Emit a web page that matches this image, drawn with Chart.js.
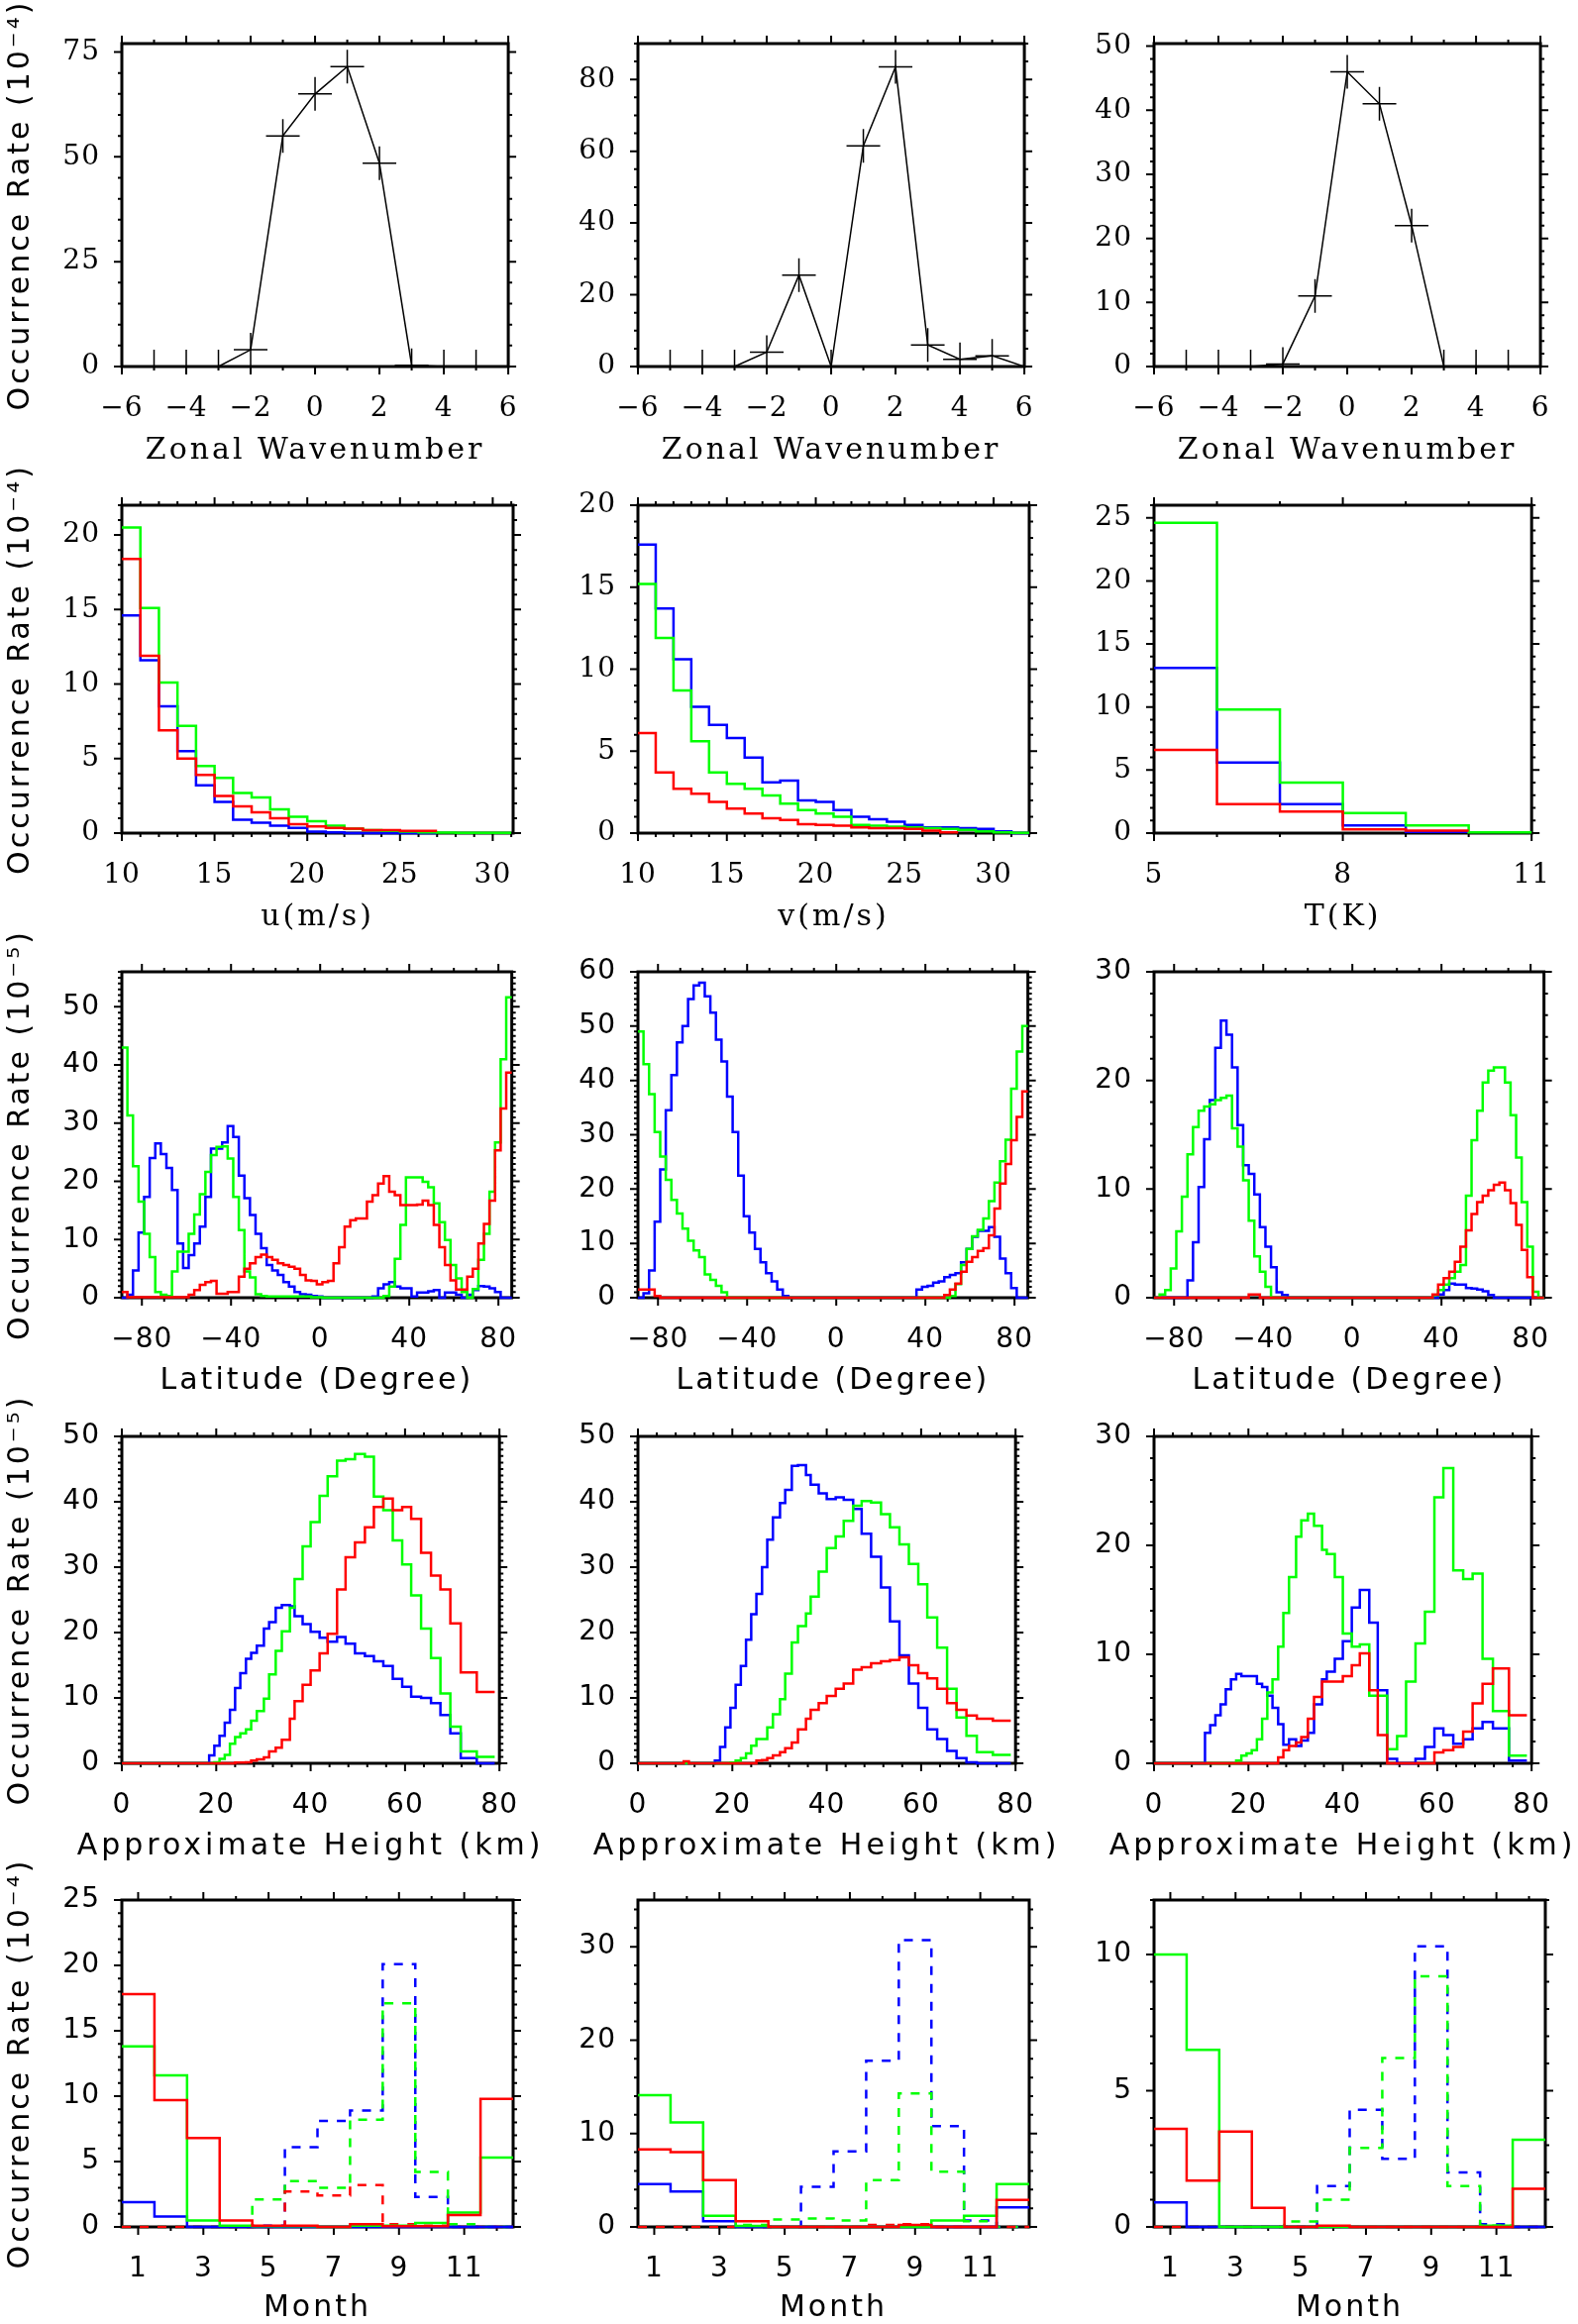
<!DOCTYPE html>
<html>
<head>
<meta charset="utf-8">
<script src="https://cdn.jsdelivr.net/npm/chart.js@4.4.1/dist/chart.umd.min.js"></script>
<style>
  body { margin: 0; width: 1593px; height: 2346px; overflow: hidden; background: #fff; position: relative; }
  canvas { position: absolute; }
</style>
</head>
<body>
<script>
// ---------- row 1: zonal wavenumber ----------
const waveNumbers = [-6, -5, -4, -3, -2, -1, 0, 1, 2, 3, 4, 5, 6];
const waveRate1 = [0, 0, 0, 0, 4, 55, 65, 71.5, 48.5, 0.3, 0, 0, 0];
const waveRate2 = [0, 0, 0, 0, 4, 25.5, 0, 61.5, 83.5, 6, 2, 3, 0];
const waveRate3 = [0, 0, 0, 0, 0.4, 11, 46, 41, 22, 0, 0, 0, 0];

// ---------- row 2: u, v, T amplitude ----------
const uEdges = [10, 11, 12, 13, 14, 15, 16, 17, 18, 19, 20, 21, 22, 23, 24, 25, 26, 27, 28, 29, 30, 31];
const uBlue = [14.6, 11.6, 8.5, 5.5, 3.2, 2.1, 0.9, 0.7, 0.5, 0.35, 0.1, 0.05, 0, 0, 0, 0, 0];
const uGreen = [20.5, 15.1, 10.1, 7.2, 4.5, 3.7, 2.7, 2.4, 1.6, 1.1, 0.8, 0.5, 0.3, 0.2, 0.15, 0.1, 0.05, 0.03, 0.02, 0.02, 0.02];
const uRed = [18.4, 11.9, 6.9, 5.0, 3.9, 2.5, 1.8, 1.4, 1.0, 0.6, 0.45, 0.35, 0.3, 0.2, 0.2, 0.15, 0.15];

const vEdges = [10, 11, 12, 13, 14, 15, 16, 17, 18, 19, 20, 21, 22, 23, 24, 25, 26, 27, 28, 29, 30, 31, 32];
const vBlue = [17.6, 13.7, 10.6, 7.7, 6.6, 5.8, 4.6, 3.1, 3.2, 2.0, 1.9, 1.4, 1.0, 0.85, 0.7, 0.5, 0.35, 0.35, 0.3, 0.25, 0.1, 0];
const vGreen = [15.2, 11.9, 8.7, 5.6, 3.7, 3.0, 2.7, 2.3, 1.8, 1.4, 1.2, 1.0, 0.5, 0.45, 0.4, 0.35, 0.3, 0.25, 0.2, 0.1, 0.05, 0.02];
const vRed = [6.1, 3.7, 2.7, 2.4, 1.9, 1.5, 1.2, 0.9, 0.8, 0.55, 0.5, 0.45, 0.35, 0.3, 0.3, 0.25, 0.15, 0.05];

const tEdges = [5, 6, 7, 8, 9, 10, 11];
const tBlue = [13.1, 5.6, 2.3, 0.6, 0.1];
const tGreen = [24.6, 9.8, 4.0, 1.6, 0.6, 0.05];
const tRed = [6.6, 2.3, 1.7, 0.3, 0.2];

// ---------- row 3: latitude ----------
const latEdges = [-89, -86.5, -84, -81.5, -79, -76.5, -74, -71.5, -69, -66.5, -64, -61.5, -59, -56.5, -54, -51.5,
  -49, -46.5, -44, -41.5, -39, -36.5, -34, -31.5, -29, -26.5, -24, -21.5, -19, -16.5, -14, -11.5, -9, -6.5, -4,
  -1.5, 1, 3.5, 6, 8.5, 11, 13.5, 16, 18.5, 21, 23.5, 26, 28.5, 31, 33.5, 36, 38.5, 41, 43.5, 46, 48.5, 51, 53.5,
  56, 58.5, 61, 63.5, 66, 68.5, 71, 73.5, 76, 78.5, 81, 83.5, 86];

const latBlue1 = [
  0, 0.5, 4.7, 11.2, 17.3, 24, 26.5, 24.7, 22.3, 18.5,
  9.3, 5.1, 7.3, 9.3, 12.2, 17.3, 25.6, 25.6, 26.7, 29.5,
  27.6, 21, 17.1, 14.2, 11, 8.5, 5.6, 4.7, 3.9, 2.7,
  1.9, 1, 0.6, 0.5, 0.3, 0.2, 0, 0, 0, 0,
  0, 0, 0, 0, 0, 0.2, 1.6, 2.3, 2.7, 1.9,
  1.6, 1.6, 0.2, 0.9, 0.9, 1.1, 1.3, 0, 0.9, 0.9,
  0.5, 0, 0.5, 1.3, 2.0, 1.9, 1.6, 1, 0, 0];
const latGreen1 = [
  43, 31.3, 22.6, 16.5, 11, 7, 1, 0.5, 0.3, 4.5,
  7.9, 7.9, 11, 14.3, 17.8, 21.6, 24.5, 25.9, 26, 23.9,
  17.3, 11.6, 4.5, 3.5, 0.6, 0.3, 0.2, 0.2, 0.2, 0.2,
  0.2, 0.2, 0.2, 0.2, 0.1, 0.1, 0, 0, 0, 0,
  0, 0, 0, 0, 0, 0, 0, 0.3, 1.9, 6.7,
  12.5, 20.7, 20.7, 20.7, 19.9, 19, 16.2, 13, 9.9, 5.6,
  3.3, 1, 0, 1.5, 6.5, 11, 18.2, 26.7, 41, 51.6];
const latRed1 = [
  1, 0.1, 0.1, 0.1, 0.1, 0.1, 0.1, 0.1, 0.1, 0.1,
  0.1, 0.1, 0.5, 1.3, 2.2, 2.7, 2.9, 0.7, 0.7, 1,
  1, 3.6, 5, 5.9, 7, 7.4, 7, 6.5, 5.9, 5.6,
  5.3, 5, 3.9, 3, 2.9, 2.3, 2.7, 2.9, 5.9, 8.7,
  12.2, 13.3, 13.6, 13.6, 16.5, 17.6, 19.6, 20.9, 18.2, 17.6,
  15.9, 15.9, 15.9, 16, 16.7, 15.9, 12.5, 8.7, 5.6, 3,
  1.4, 1.4, 3.6, 5, 9.3, 12.7, 16.7, 25.3, 32.5, 38.7];

const latBlue2 = [
  0, 0.8, 5, 14, 23.6, 34.5, 41, 47, 50, 55,
  57.5, 58, 55.5, 52.5, 47.5, 43.5, 37, 30.5, 22.5, 15,
  12, 9, 6.5, 4.5, 3, 1.5, 0.3, 0, 0, 0,
  0, 0, 0, 0, 0, 0, 0, 0, 0, 0,
  0, 0, 0, 0, 0, 0, 0, 0, 0, 0,
  1.5, 2, 2.2, 2.8, 3, 3.8, 4.2, 4.5, 6.5, 9,
  11.2, 12.3, 12.3, 13, 11.2, 7.2, 4.5, 1.8, 0, 0];
const latGreen2 = [
  49, 43, 37.5, 30.5, 26, 21.7, 18, 15.5, 12.7, 10.5,
  8.7, 7.5, 4.3, 3.3, 2.2, 1, 0, 0, 0, 0,
  0, 0, 0, 0, 0, 0, 0, 0, 0, 0,
  0, 0, 0, 0, 0, 0, 0, 0, 0, 0,
  0, 0, 0, 0, 0, 0, 0, 0, 0, 0,
  0, 0, 0, 0, 0, 0, 0.3, 2.5, 6, 9,
  11.3, 12.5, 14.6, 17.8, 21.2, 25.1, 29.1, 38.5, 45.3, 50];
const latRed2 = [
  1.5, 1.5, 1.5, 0.3, 0, 0, 0, 0, 0, 0,
  0, 0, 0, 0, 0, 0, 0, 0, 0, 0,
  0, 0, 0, 0, 0, 0, 0, 0, 0, 0,
  0, 0, 0, 0, 0, 0, 0, 0, 0, 0,
  0, 0, 0, 0, 0, 0, 0, 0, 0, 0,
  0, 0, 0, 0, 0, 0.5, 1.5, 2.6, 4.8, 6.6,
  7.5, 8.6, 9.1, 11.5, 16.4, 21, 24.6, 29, 33.3, 38];

const latBlue3 = [
  0, 0, 0, 0, 0, 0, 1.6, 5.1, 10.2, 14.6,
  18.2, 23, 25.5, 24.2, 21.2, 15.9, 12.2, 11.4, 9.5, 6.5,
  4.7, 2.8, 0.5, 0.25, 0, 0, 0, 0, 0, 0,
  0, 0, 0, 0, 0, 0, 0, 0, 0, 0,
  0, 0, 0, 0, 0, 0, 0, 0, 0, 0,
  0, 0.3, 0.7, 1.3, 1.2, 1.2, 0.9, 0.85, 0.75, 0.6,
  0.25, 0, 0, 0, 0, 0, 0, 0, 0, 0];
const latGreen3 = [
  0, 0.3, 0.7, 2.7, 6.1, 9.3, 13.2, 15.7, 17.2, 17.6,
  17.8, 18.2, 18.4, 18.6, 15.6, 13.9, 10.8, 7.1, 3.8, 2.4,
  1, 0, 0, 0, 0, 0, 0, 0, 0, 0,
  0, 0, 0, 0, 0, 0, 0, 0, 0, 0,
  0, 0, 0, 0, 0, 0, 0, 0, 0, 0,
  0.25, 0.7, 1.2, 1.8, 2.4, 3, 9.4, 14.5, 17.2, 19.8,
  20.9, 21.2, 21.2, 19.8, 16.8, 12.9, 8.8, 4.7, 0.55, 0];
const latRed3 = [
  0, 0, 0, 0, 0, 0, 0, 0, 0, 0,
  0, 0, 0, 0, 0, 0, 0, 0.3, 0.3, 0,
  0, 0, 0, 0, 0, 0, 0, 0, 0, 0,
  0, 0, 0, 0, 0, 0, 0, 0, 0, 0,
  0, 0, 0, 0, 0, 0, 0, 0, 0, 0,
  0.3, 1.2, 1.8, 2.4, 3.3, 4.7, 6.2, 7.7, 8.8, 9.4,
  9.9, 10.4, 10.6, 9.9, 8.7, 6.7, 4.4, 1.9, 0, 0];

// ---------- row 4: approximate height ----------
const heightEdges = [0, 8.6, 9.7, 10.8, 11.9, 13.0, 14.1, 15.2, 16.3, 17.4, 18.5, 19.6, 20.7, 21.8, 22.9, 24.0,
  25.1, 26.3, 27.4, 28.6, 30.1, 31.2, 32.6, 33.9, 35.6, 36.6, 38.3, 40.0, 41.9, 43.6, 45.6, 47.4, 49.4, 51.5,
  53.4, 55.4, 57.4, 59.4, 61.3, 63.4, 65.5, 67.5, 69.6, 71.8, 75.2, 79.0];

const hBlue1 = [0, 0, 0, 0, 0, 0, 0, 0, 0, 0, 1.2, 2.7, 4.2, 6.2, 8.2, 11.5, 13.8, 16.0, 16.9, 18.0, 20.6, 21.6,
  23.8, 24.2, 24.0, 22.5, 21.3, 20.1, 19.2, 18.6, 19.3, 18.3, 16.8, 16.4, 15.6, 14.9, 12.9, 11.7, 10.2, 10.0, 9.2,
  7.4, 4.6, 0.8, 0];
const hGreen1 = [0, 0, 0, 0, 0, 0, 0, 0, 0, 0, 0, 0.15, 0.7, 1.3, 3.0, 4.0, 4.6, 5.2, 6.5, 8.0, 9.9, 13.6, 17.2,
  20.2, 23.8, 28.2, 33.2, 36.9, 40.9, 43.9, 46.3, 46.5, 47.3, 46.9, 40.8, 38.7, 34.1, 30.4, 25.7, 20.6, 16.1, 10.7,
  5.6, 1.8, 1.0];
const hRed1 = [0, 0, 0, 0, 0, 0, 0, 0, 0, 0, 0, 0, 0, 0, 0, 0.1, 0.1, 0.15, 0.4, 0.6, 0.9, 1.8, 2.4, 3.6, 6.8, 9.5,
  12.0, 14.2, 16.8, 19.8, 26.6, 31.5, 33.8, 36.1, 39.2, 40.5, 38.7, 39.2, 37.4, 32.2, 28.7, 26.6, 21.4, 13.9, 10.9];

const hBlue2 = [0, 0, 0, 0, 0, 0, 0, 0, 0.4, 2.5, 5.5, 8.5, 12, 14.9, 18.9, 22.8, 25.9, 30, 34.2, 37.6, 39.8, 41.8,
  45.5, 45.6, 44.1, 42.6, 41.3, 40.4, 40.7, 40.3, 38.9, 35.1, 31.6, 26.9, 21.7, 16.5, 12.2, 8.5, 5.2, 3.7, 1.9,
  0.8, 0.15, 0, 0];
const hGreen2 = [0, 0, 0, 0, 0, 0, 0, 0, 0, 0, 0, 0.1, 0.4, 0.8, 1.5, 2.7, 3.7, 3.7, 5.5, 7.5, 9.8, 13.7, 18.5, 21,
  22.9, 25.5, 29.3, 32.9, 34.7, 37.1, 39.4, 40.1, 39.9, 38.1, 36.1, 33.5, 30.5, 27.4, 22.3, 17.7, 11.4, 7, 4.2,
  1.7, 1.3];
const hRed2 = [0, 0, 0.3, 0, 0, 0, 0, 0, 0, 0, 0, 0, 0, 0, 0, 0, 0.4, 0.5, 0.8, 1.2, 1.7, 2.3, 3.2, 5.2, 6.8, 8.2,
  9.2, 10.3, 11.4, 12.2, 14.3, 14.7, 15.3, 15.6, 15.8, 16.2, 15, 13.8, 13, 11.4, 9.2, 8.2, 7.3, 6.8, 6.5];

const hBlue3 = [0, 0, 0, 2.8, 3.5, 4.4, 5.4, 6.8, 7.7, 8.2, 8.0, 8.0, 8.0, 7.3, 7.0, 6.2, 5.1, 3.6, 1.7, 2.2, 1.6,
  2.1, 2.8, 5.4, 7.7, 8.4, 9.6, 11.2, 14.3, 15.9, 12.9, 6.7, 0.4, 0, 0, 0.4, 1.5, 3.2, 2.6, 1.8, 2.2, 3.2, 3.8,
  3.2, 0.25];
const hGreen3 = [0, 0, 0, 0, 0, 0, 0, 0, 0, 0.25, 0.7, 0.9, 1.2, 2.2, 4.1, 6.5, 7.7, 10.7, 13.8, 17.1, 20.8, 22.3,
  22.9, 21.8, 19.6, 19.2, 17.1, 11.9, 10.7, 10.9, 6.2, 6.2, 1.3, 2.5, 7.5, 11, 13.9, 24.4, 27.1, 17.7, 16.9, 17.4,
  9.6, 4.8, 0.7];
const hRed3 = [0, 0, 0, 0, 0, 0, 0, 0, 0, 0, 0, 0, 0, 0, 0, 0, 0, 0.55, 1.2, 1.6, 1.9, 2.4, 4.1, 6.1, 7.5, 7.5, 7.5,
  8, 9, 10.1, 6.7, 2.6, 0, 0, 0, 0, 0, 1, 1.2, 1.5, 2.9, 5.5, 7.3, 8.7, 4.4];

// ---------- row 5: month ----------
const monthEdges = [0.5, 1.5, 2.5, 3.5, 4.5, 5.5, 6.5, 7.5, 8.5, 9.5, 10.5, 11.5, 12.5];

const mRed1 = [17.8, 9.7, 6.8, 0.5, 0.1, 0.1, 0, 0.2, 0.05, 0.05, 0.9, 9.8];
const mGreen1 = [13.8, 11.6, 0.5, 0.1, 0.05, 0.05, 0, 0.1, 0.1, 0.3, 1.1, 5.3];
const mBlue1 = [1.9, 0.8, 0, 0, 0, 0, 0, 0, 0, 0, 0, 0];
const mRedDash1 = [0, 0, 0, 0, 0, 2.7, 2.4, 3.2, 0.2, 0.1, 0, 0];
const mGreenDash1 = [0, 0, 0, 0, 2.1, 3.5, 3.0, 8.2, 17.1, 4.2, 0.2, 0];
const mBlueDash1 = [0, 0, 0, 0, 0.1, 6.1, 8.1, 8.9, 20.1, 2.3, 0, 0];

const mRed2 = [8.3, 8.0, 5.0, 0.6, 0, 0, 0, 0, 0.2, 0, 0, 2.9];
const mGreen2 = [14.1, 11.2, 1.2, 0.1, 0, 0, 0, 0, 0, 0.7, 1.2, 4.6];
const mBlue2 = [4.6, 3.8, 0.6, 0, 0, 0, 0, 0, 0, 0, 0, 2.1];
const mRedDash2 = [0, 0, 0, 0, 0, 0, 0, 0.2, 0.3, 0, 0, 0];
const mGreenDash2 = [0, 0, 0, 0.2, 0.8, 0.9, 0.7, 5.0, 14.3, 5.9, 0.6, 0];
const mBlueDash2 = [0, 0, 0, 0, 0, 4.3, 8.1, 17.8, 30.7, 10.8, 0.7, 0];

const mRed3 = [3.6, 1.7, 3.5, 0.7, 0, 0.05, 0, 0, 0, 0, 0, 1.4];
const mGreen3 = [10, 6.5, 0, 0, 0, 0, 0, 0, 0, 0, 0.05, 3.2];
const mBlue3 = [0.9, 0, 0, 0, 0, 0, 0, 0, 0, 0, 0, 0];
const mRedDash3 = [0, 0, 0, 0, 0, 0, 0, 0, 0, 0, 0, 0];
const mGreenDash3 = [0, 0, 0, 0, 0.2, 1.0, 2.9, 6.2, 9.2, 1.5, 0.05, 0];
const mBlueDash3 = [0, 0, 0, 0, 0, 1.5, 4.3, 2.5, 10.3, 2.0, 0.1, 0];

// ---------- tick labels ----------
const waveTicks = [-6, -4, -2, 0, 2, 4, 6];
const windTicks = [10, 15, 20, 25, 30];
const tempTicks = [5, 8, 11];
const latTicks = [-80, -40, 0, 40, 80];
const heightTicks = [0, 20, 40, 60, 80];
const monthTicks = [1, 3, 5, 7, 9, 11];

const yTitles = ['Occurrence Rate (10\u207B\u2074)', 'Occurrence Rate (10\u207B\u2074)',
  'Occurrence Rate (10\u207B\u2075)', 'Occurrence Rate (10\u207B\u2075)', 'Occurrence Rate (10\u207B\u2074)'];

// ---------- layout ----------
const PLOT_LEFT = [123, 644, 1165];
const PLOT_TOP = [44, 510, 981, 1450, 1918];
const PLOT_H = [326, 331, 329, 330, 330];
const PLOT_W = 395;
const PAD_TOP = 44, PAD_RIGHT = 30, Y_AXIS_W = 123, X_AXIS_H = 125;
const TITLE_OFFSET = [85, 85, 84, 84, 82];
const TITLE_SPACING = [3, 3, 3, 4, 3];
const SANS = '"DejaVu Sans", sans-serif';
const SERIF = '"DejaVu Serif", serif';
const BLUE = '#0000ff', GREEN = '#00ff00', RED = '#ff0000';

function steps(edges, values) {
  const pts = values.map((v, i) => ({ x: edges[i], y: v }));
  pts.push({ x: edges[values.length], y: values[values.length - 1] });
  return pts;
}

function hist(edges, values, color, dashed) {
  return {
    data: steps(edges, values),
    borderColor: color,
    borderWidth: 2.5,
    borderDash: dashed ? [9, 9] : [],
    stepped: true,
    pointRadius: 0,
    fill: false,
    clip: 3
  };
}

function waveLine(values) {
  return {
    data: waveNumbers.map((k, i) => ({ x: k, y: values[i] })),
    borderColor: '#000',
    borderWidth: 1.5,
    pointStyle: 'cross',
    pointRadius: 17,
    pointBorderWidth: 1.5,
    pointBorderColor: '#000',
    clip: 0
  };
}

function tickMarks(scale, step, majors, draw) {
  for (let k = Math.ceil(scale.min / step - 1e-6); k * step <= scale.max + 1e-6; k++) {
    const v = k * step;
    const major = majors.some(m => Math.abs(m - v) < 1e-6);
    draw(scale.getPixelForValue(v), major ? 8 : 4);
  }
}

function idlFrame(p, family) {
  return {
    id: 'idlFrame',
    beforeDraw(chart) {
      chart.ctx.letterSpacing = '1px';
    },
    beforeDatasetsDraw(chart) {
      const { ctx, chartArea: a, scales: { x, y } } = chart;
      ctx.save();
      ctx.strokeStyle = '#000';
      ctx.lineWidth = 2;
      ctx.beginPath();
      tickMarks(x, p.xMinor, p.xTicks, (px, len) => {
        ctx.moveTo(px, a.bottom); ctx.lineTo(px, a.bottom + len);
        ctx.moveTo(px, a.top); ctx.lineTo(px, a.top - len);
      });
      tickMarks(y, p.yMinor, p.yTicks, (py, len) => {
        ctx.moveTo(a.left, py); ctx.lineTo(a.left - len, py);
        ctx.moveTo(a.right, py); ctx.lineTo(a.right + len, py);
      });
      ctx.stroke();
      ctx.lineWidth = 3;
      ctx.strokeRect(a.left, a.top, a.right - a.left, a.bottom - a.top);
      ctx.restore();
    },
    afterDraw(chart) {
      const { ctx, chartArea: a } = chart;
      ctx.save();
      ctx.letterSpacing = TITLE_SPACING[p.row] + 'px';
      ctx.fillStyle = '#000';
      ctx.textAlign = 'center';
      ctx.textBaseline = 'middle';
      ctx.font = '30px ' + family;
      ctx.fillText(p.xTitle, (a.left + a.right) / 2, a.bottom + TITLE_OFFSET[p.row]);
      if (p.col === 0) {
        ctx.letterSpacing = '3px';
        ctx.font = '30px ' + SANS;
        ctx.translate(21, (a.top + a.bottom) / 2);
        ctx.rotate(-Math.PI / 2);
        ctx.fillText(yTitles[p.row], 0, 0);
      }
      ctx.restore();
    }
  };
}

function makePanel(p) {
  const canvas = document.createElement('canvas');
  canvas.width = Y_AXIS_W + PLOT_W + PAD_RIGHT;
  canvas.height = PAD_TOP + PLOT_H[p.row] + X_AXIS_H;
  canvas.style.left = (PLOT_LEFT[p.col] - Y_AXIS_W) + 'px';
  canvas.style.top = (PLOT_TOP[p.row] - PAD_TOP) + 'px';
  document.body.appendChild(canvas);

  const family = p.row < 2 ? SERIF : SANS;
  const tickFont = { family: family, size: 28 };
  const minus = v => String(v).replace('-', '\u2212');

  new Chart(canvas, {
    type: 'line',
    data: { datasets: p.datasets },
    options: {
      responsive: false,
      animation: false,
      devicePixelRatio: 1,
      events: [],
      layout: { padding: { top: PAD_TOP, right: PAD_RIGHT, bottom: 0, left: 0 } },
      plugins: { legend: { display: false }, tooltip: { enabled: false } },
      scales: {
        x: {
          type: 'linear', bounds: 'data', min: p.x[0], max: p.x[1],
          grid: { display: false, drawTicks: false },
          border: { display: false },
          ticks: { font: tickFont, color: '#000', padding: 26, maxRotation: 0, autoSkip: false, callback: minus },
          afterBuildTicks: s => { s.ticks = p.xTicks.map(v => ({ value: v })); },
          afterFit: s => { s.height = X_AXIS_H; }
        },
        y: {
          type: 'linear', bounds: 'data', min: p.y[0], max: p.y[1],
          grid: { display: false, drawTicks: false },
          border: { display: false },
          ticks: { font: tickFont, color: '#000', padding: 22, autoSkip: false, callback: minus },
          afterBuildTicks: s => { s.ticks = p.yTicks.map(v => ({ value: v })); },
          afterFit: s => { s.width = Y_AXIS_W; }
        }
      }
    },
    plugins: [idlFrame(p, family)]
  });
}

const panels = [
  // row 1
  { row: 0, col: 0, x: [-6, 6], xTicks: waveTicks, xMinor: 1, y: [0, 77], yTicks: [0, 25, 50, 75], yMinor: 5,
    xTitle: 'Zonal Wavenumber', datasets: [waveLine(waveRate1)] },
  { row: 0, col: 1, x: [-6, 6], xTicks: waveTicks, xMinor: 1, y: [0, 90], yTicks: [0, 20, 40, 60, 80], yMinor: 5,
    xTitle: 'Zonal Wavenumber', datasets: [waveLine(waveRate2)] },
  { row: 0, col: 2, x: [-6, 6], xTicks: waveTicks, xMinor: 1, y: [0, 50.4], yTicks: [0, 10, 20, 30, 40, 50], yMinor: 2,
    xTitle: 'Zonal Wavenumber', datasets: [waveLine(waveRate3)] },
  // row 2
  { row: 1, col: 0, x: [10, 31.1], xTicks: windTicks, xMinor: 1, y: [0, 22], yTicks: [0, 5, 10, 15, 20], yMinor: 1,
    xTitle: 'u(m/s)', datasets: [hist(uEdges, uRed, RED), hist(uEdges, uGreen, GREEN), hist(uEdges, uBlue, BLUE)] },
  { row: 1, col: 1, x: [10, 32], xTicks: windTicks, xMinor: 1, y: [0, 20], yTicks: [0, 5, 10, 15, 20], yMinor: 1,
    xTitle: 'v(m/s)', datasets: [hist(vEdges, vRed, RED), hist(vEdges, vGreen, GREEN), hist(vEdges, vBlue, BLUE)] },
  { row: 1, col: 2, x: [5, 11], xTicks: tempTicks, xMinor: 1, y: [0, 26], yTicks: [0, 5, 10, 15, 20, 25], yMinor: 1,
    xTitle: 'T(K)', datasets: [hist(tEdges, tRed, RED), hist(tEdges, tGreen, GREEN), hist(tEdges, tBlue, BLUE)] },
  // row 3
  { row: 2, col: 0, x: [-89, 86], xTicks: latTicks, xMinor: 10, y: [0, 56], yTicks: [0, 10, 20, 30, 40, 50], yMinor: 1,
    xTitle: 'Latitude (Degree)', datasets: [hist(latEdges, latRed1, RED), hist(latEdges, latGreen1, GREEN), hist(latEdges, latBlue1, BLUE)] },
  { row: 2, col: 1, x: [-89, 86], xTicks: latTicks, xMinor: 10, y: [0, 60], yTicks: [0, 10, 20, 30, 40, 50, 60], yMinor: 1,
    xTitle: 'Latitude (Degree)', datasets: [hist(latEdges, latRed2, RED), hist(latEdges, latGreen2, GREEN), hist(latEdges, latBlue2, BLUE)] },
  { row: 2, col: 2, x: [-89, 86], xTicks: latTicks, xMinor: 10, y: [0, 30], yTicks: [0, 10, 20, 30], yMinor: 2,
    xTitle: 'Latitude (Degree)', datasets: [hist(latEdges, latRed3, RED), hist(latEdges, latGreen3, GREEN), hist(latEdges, latBlue3, BLUE)] },
  // row 4
  { row: 3, col: 0, x: [0, 80], xTicks: heightTicks, xMinor: 4, y: [0, 50], yTicks: [0, 10, 20, 30, 40, 50], yMinor: 1,
    xTitle: 'Approximate Height (km)', datasets: [hist(heightEdges, hRed1, RED), hist(heightEdges, hGreen1, GREEN), hist(heightEdges, hBlue1, BLUE)] },
  { row: 3, col: 1, x: [0, 80], xTicks: heightTicks, xMinor: 4, y: [0, 50], yTicks: [0, 10, 20, 30, 40, 50], yMinor: 1,
    xTitle: 'Approximate Height (km)', datasets: [hist(heightEdges, hRed2, RED), hist(heightEdges, hGreen2, GREEN), hist(heightEdges, hBlue2, BLUE)] },
  { row: 3, col: 2, x: [0, 80], xTicks: heightTicks, xMinor: 4, y: [0, 30], yTicks: [0, 10, 20, 30], yMinor: 2,
    xTitle: 'Approximate Height (km)', datasets: [hist(heightEdges, hRed3, RED), hist(heightEdges, hGreen3, GREEN), hist(heightEdges, hBlue3, BLUE)] },
  // row 5
  { row: 4, col: 0, x: [0.5, 12.5], xTicks: monthTicks, xMinor: 1, y: [0, 25], yTicks: [0, 5, 10, 15, 20, 25], yMinor: 1,
    xTitle: 'Month', datasets: [hist(monthEdges, mRed1, RED), hist(monthEdges, mGreen1, GREEN), hist(monthEdges, mBlue1, BLUE),
      hist(monthEdges, mRedDash1, RED, true), hist(monthEdges, mGreenDash1, GREEN, true), hist(monthEdges, mBlueDash1, BLUE, true)] },
  { row: 4, col: 1, x: [0.5, 12.5], xTicks: monthTicks, xMinor: 1, y: [0, 35], yTicks: [0, 10, 20, 30], yMinor: 2,
    xTitle: 'Month', datasets: [hist(monthEdges, mRed2, RED), hist(monthEdges, mGreen2, GREEN), hist(monthEdges, mBlue2, BLUE),
      hist(monthEdges, mRedDash2, RED, true), hist(monthEdges, mGreenDash2, GREEN, true), hist(monthEdges, mBlueDash2, BLUE, true)] },
  { row: 4, col: 2, x: [0.5, 12.5], xTicks: monthTicks, xMinor: 1, y: [0, 12], yTicks: [0, 5, 10], yMinor: 1,
    xTitle: 'Month', datasets: [hist(monthEdges, mRed3, RED), hist(monthEdges, mGreen3, GREEN), hist(monthEdges, mBlue3, BLUE),
      hist(monthEdges, mRedDash3, RED, true), hist(monthEdges, mGreenDash3, GREEN, true), hist(monthEdges, mBlueDash3, BLUE, true)] }
];

panels.forEach(makePanel);
</script>
</body>
</html>
